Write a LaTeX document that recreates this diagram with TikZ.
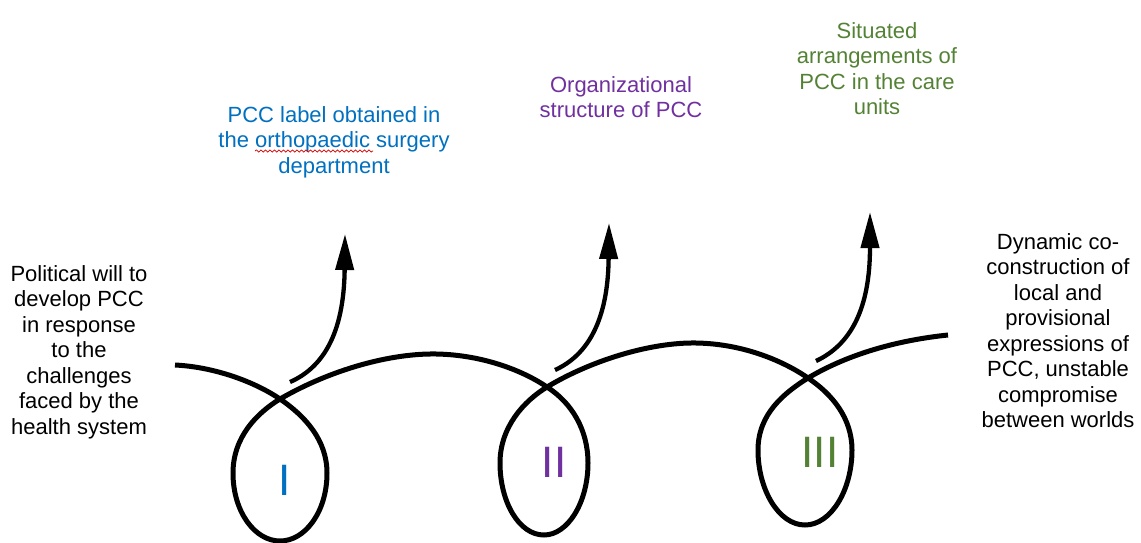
\documentclass[tikz,border=0pt]{standalone}
\usepackage{fontspec}
\setmainfont{Liberation Sans}
\usetikzlibrary{arrows.meta,decorations.pathmorphing}
\definecolor{pccblue}{HTML}{0070C0}
\definecolor{pccpurple}{HTML}{7030A0}
\definecolor{pccgreen}{HTML}{548235}
\begin{document}
\begin{tikzpicture}[x=1pt,y=-1pt,
  lbl/.style={align=center, inner sep=0pt, font=\fontsize{22}{25.5}\selectfont, anchor=base},
  numeral/.style={inner sep=0pt, font=\fontsize{44}{44}\selectfont, anchor=base},
  strand/.style={line width=5pt, line join=round},
  sprout/.style={line width=4.3pt, -{Triangle[length=36pt,width=18pt]}},
  squiggle/.style={red!85!black, line width=0.7pt, decorate, decoration={snake, amplitude=1.1pt, segment length=4.5pt}}]
\useasboundingbox (0,0) rectangle (1141,542);

% texts (anchored at the baseline of the last line)
\node[lbl] (left) at (79,434) {Political will to\\develop PCC\\in response\\to the\\challenges\\faced by the\\health system};
\node[lbl, text=pccblue] (blue) at (334,173) {PCC label obtained in\\the orthopaedic surgery\\department};
\node[lbl, text=pccpurple] (purple) at (621,117.5) {Organizational\\structure of PCC};
\node[lbl, text=pccgreen] (green) at (877,114.5) {Situated\\arrangements of\\PCC in the care\\units};
\node[lbl] (right) at (1058,427.5) {Dynamic co-\\construction of\\local and\\provisional\\expressions of\\PCC, unstable\\compromise\\between worlds};

% numerals
\node[numeral, text=pccblue] (n1) at (284.5,495) {I};
\node[numeral, text=pccpurple] (n2) at (554,477) {II};
\node[numeral, text=pccgreen] (n3) at (820,467) {III};

% spell-check underline
\coordinate (sq0) at (255,151);
\coordinate (sq1) at (373,151);
\draw[squiggle] (sq0) -- (sq1);

% main strand
\coordinate (s0) at (175,365);
\coordinate (x1) at (280,399);
\coordinate (x2) at (547,387);
\coordinate (x3) at (808,378);
\coordinate (e0) at (948,335);
\draw[strand] (s0) .. controls (215,367) and (255,382) .. (x1)
  .. controls (305,416) and (327,440) .. (327,473)
  .. controls (327,512) and (305,541) .. (280,541)
  .. controls (255,541) and (233,512) .. (233,473)
  .. controls (233,437) and (257,413) .. (x1)
  .. controls (330,370) and (390,353) .. (437,354)
  .. controls (482,355) and (522,370) .. (x2)
  .. controls (572,403) and (588,430) .. (588,463)
  .. controls (588,502) and (568,535) .. (544,535)
  .. controls (519,535) and (500,502) .. (500,463)
  .. controls (500,427) and (524,401) .. (x2)
  .. controls (590,361) and (650,342) .. (697,343)
  .. controls (745,344) and (785,362) .. (x3)
  .. controls (832,394) and (852,418) .. (852,450)
  .. controls (852,490) and (831,525) .. (805,525)
  .. controls (779,525) and (758,490) .. (758,450)
  .. controls (758,414) and (784,393) .. (x3)
  .. controls (850,353) and (900,340) .. (e0);

% sprouting arrows
\coordinate (a1s) at (290,382);
\coordinate (a1t) at (345,234);
\coordinate (a2s) at (555,370);
\coordinate (a2t) at (609,223);
\coordinate (a3s) at (816,361);
\coordinate (a3t) at (870,212);
\draw[sprout] (a1s) .. controls (322,368) and (344,335) .. (a1t);
\draw[sprout] (a2s) .. controls (588,355) and (608,320) .. (a2t);
\draw[sprout] (a3s) .. controls (850,345) and (870,310) .. (a3t);
\end{tikzpicture}
\end{document}
